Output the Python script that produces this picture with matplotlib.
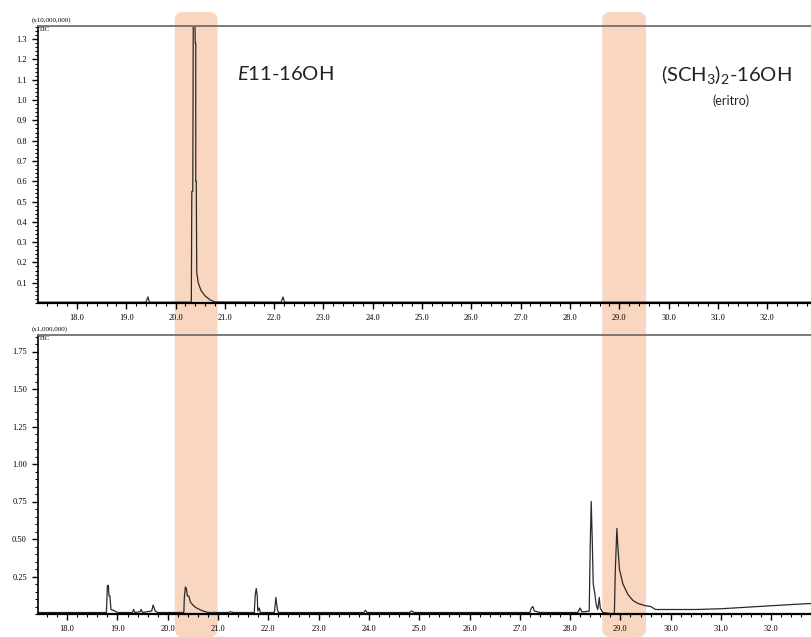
import matplotlib
matplotlib.use('Agg')
import matplotlib.pyplot as plt
from matplotlib.patches import FancyBboxPatch
from matplotlib.transforms import IdentityTransform
from matplotlib.ticker import MultipleLocator, FormatStrFormatter

plt.rcParams['mathtext.fontset'] = 'custom'
plt.rcParams['mathtext.rm'] = 'Lato'
plt.rcParams['mathtext.it'] = 'Lato:italic'

# Top chromatogram (TIC x10,000,000)
top_t = [17.21, 19.40, 19.44, 19.47, 20.32, 20.33, 20.35, 20.36, 20.39, 20.40, 20.41,
         20.41, 20.42, 20.43, 20.46, 20.52, 20.60, 20.70, 20.80, 22.14, 22.18, 22.21, 32.89]
top_y = [0.004, 0.004, 0.03, 0.004, 0.004, 0.55, 0.55, 1.45, 1.45, 1.28, 1.28,
         0.60, 0.60, 0.15, 0.10, 0.06, 0.035, 0.015, 0.005, 0.004, 0.03, 0.004, 0.004]

# Bottom chromatogram (TIC x1,000,000)
bot_t = [17.42, 18.78, 18.80, 18.82, 18.83, 18.85, 18.87, 18.95, 19.00, 19.30, 19.32, 19.35,
         19.45, 19.47, 19.50, 19.68, 19.71, 19.75, 19.80, 20.32, 20.33, 20.35, 20.37, 20.39,
         20.42, 20.45, 20.50, 20.55, 20.60, 20.70, 20.80, 21.20, 21.25, 21.30, 21.72, 21.74,
         21.76, 21.78, 21.79, 21.82, 21.84, 22.12, 22.15, 22.18, 22.20, 23.90, 23.93, 23.96,
         24.80, 24.85, 24.90, 27.20, 27.23, 27.26, 27.29, 27.35, 27.40, 28.15, 28.20, 28.23,
         28.30, 28.38, 28.40, 28.42, 28.44, 28.46, 28.49, 28.52, 28.55, 28.58, 28.60, 28.65,
         28.88, 28.90, 28.93, 28.95, 28.98, 29.05, 29.15, 29.25, 29.35, 29.50, 29.60, 29.70,
         30.50, 31.00, 31.50, 32.00, 32.50, 32.79]
bot_y = [0.01, 0.01, 0.19, 0.19, 0.12, 0.12, 0.03, 0.02, 0.01, 0.01, 0.03, 0.01,
         0.015, 0.03, 0.01, 0.02, 0.06, 0.02, 0.01, 0.01, 0.11, 0.18, 0.17, 0.12,
         0.12, 0.08, 0.06, 0.045, 0.035, 0.02, 0.01, 0.01, 0.015, 0.01, 0.01, 0.13,
         0.17, 0.12, 0.02, 0.04, 0.01, 0.01, 0.11, 0.03, 0.01, 0.01, 0.025, 0.01,
         0.01, 0.02, 0.01, 0.01, 0.04, 0.05, 0.02, 0.015, 0.01, 0.01, 0.04, 0.015,
         0.015, 0.02, 0.45, 0.75, 0.5, 0.2, 0.14, 0.06, 0.03, 0.11, 0.04, 0.01,
         0.0, 0.3, 0.57, 0.45, 0.3, 0.2, 0.13, 0.09, 0.07, 0.055, 0.05, 0.03,
         0.03, 0.035, 0.045, 0.055, 0.065, 0.07]

# highlighted retention windows (min)
bands = [(20.14, 20.99), (28.64, 29.51)]
band_color = '#f9d6bf'
line_color = '#2a2a2a'
tick_font = 'Liberation Serif'

fig = plt.figure(figsize=(8.11, 6.37), dpi=100)
ax1 = fig.add_axes([38 / 811, 1 - 303 / 637, 1 - 38 / 811, 277 / 637])
ax2 = fig.add_axes([38 / 811, 1 - 614 / 637, 1 - 38 / 811, 279 / 637])

ax1.plot(top_t, top_y, color=line_color, lw=0.9)
ax1.set_xlim(17.21, 32.89)
ax1.set_ylim(0, 1.365)
ax1.yaxis.set_major_locator(MultipleLocator(0.1))
ax1.yaxis.set_minor_locator(MultipleLocator(0.02))
ax1.yaxis.set_major_formatter(FormatStrFormatter('%.1f'))

ax2.plot(bot_t, bot_y, color=line_color, lw=0.9)
ax2.set_xlim(17.42, 32.79)
ax2.set_ylim(0, 1.86)
ax2.yaxis.set_major_locator(MultipleLocator(0.25))
ax2.yaxis.set_minor_locator(MultipleLocator(0.05))
ax2.yaxis.set_major_formatter(FormatStrFormatter('%.2f'))

for ax, header in [(ax1, '(x10,000,000)'), (ax2, '(x1,000,000)')]:
    ax.set_facecolor('none')
    ax.xaxis.set_major_locator(MultipleLocator(1.0))
    ax.xaxis.set_minor_locator(MultipleLocator(0.2))
    ax.xaxis.set_major_formatter(FormatStrFormatter('%.1f'))
    ax.spines['right'].set_visible(False)
    ax.spines['top'].set_color('#707070')
    ax.spines['top'].set_linewidth(1.3)
    ax.spines['left'].set_linewidth(1.2)
    ax.spines['bottom'].set_linewidth(1.6)
    ax.tick_params(which='major', direction='out', length=4, width=1.0, pad=4,
                   labelsize=6)
    ax.tick_params(which='minor', direction='out', length=2.5, width=0.8)
    for lab in ax.get_xticklabels() + ax.get_yticklabels():
        lab.set_fontfamily(tick_font)
    yt = ax.get_yticks()
    ax.set_yticks([v for v in yt if v > 1e-6 and v <= ax.get_ylim()[1]])
    ax.text(-0.008, 1.012, header, transform=ax.transAxes, fontsize=5,
            family=tick_font, ha='left', va='bottom')
    ax.text(0.001, 0.997, 'TIC', transform=ax.transAxes, fontsize=5,
            family=tick_font, ha='left', va='top')
    for lab in ax.get_xticklabels() + ax.get_yticklabels():
        lab.set_fontfamily(tick_font)

# peach bands spanning both panels, placed via the lower axis data scale
for x0, x1 in bands:
    px0 = ax2.transData.transform((x0, 0))[0]
    px1 = ax2.transData.transform((x1, 0))[0]
    band = FancyBboxPatch((px0, 0), px1 - px0, 625, boxstyle='round,pad=0,rounding_size=8',
                          transform=IdentityTransform(), facecolor=band_color,
                          edgecolor='none', zorder=-1)
    fig.add_artist(band)

fig.text(237 / 811, 1 - 74 / 637, r'$\mathit{E}$11-16OH', fontsize=14.5, family='Lato',
         ha='left', va='center', color='#222222')
fig.text(726 / 811, 1 - 74 / 637, r'(SCH$_3$)$_2$-16OH', fontsize=14.5, family='Lato',
         ha='center', va='center', color='#222222')
fig.text(731 / 811, 1 - 101 / 637, '(eritro)', fontsize=9, family='Lato',
         ha='center', va='center', color='#222222')

fig.savefig('out.png', dpi=100)
